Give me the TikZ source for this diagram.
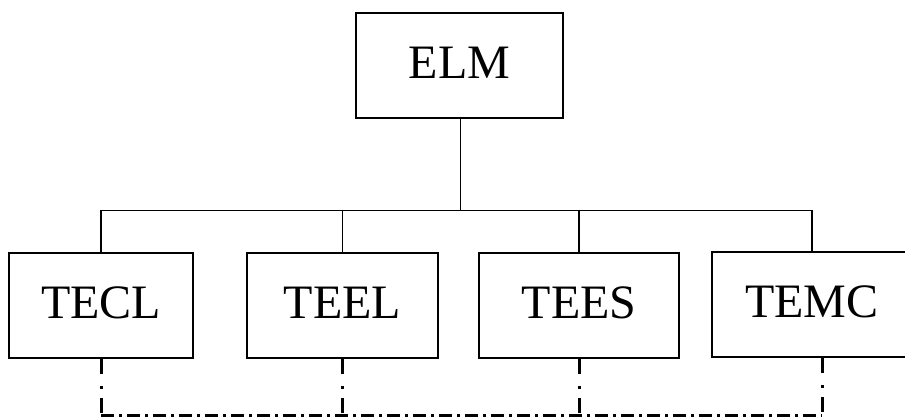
\documentclass[tikz,border=0pt]{standalone}
\usepackage{fontspec}
\setmainfont{Liberation Serif}
\begin{document}
\begin{tikzpicture}[x=1pt,y=-1pt,
  unitbox/.style={draw=black, line width=2pt, fill=white, minimum height=105pt,
    inner sep=0pt, font=\fontsize{48}{52}\selectfont, text depth=6pt},
  tree/.style={draw=black, line width=1.6pt},
  vdashdot/.style={draw=black, line width=3pt, dash pattern=on 15pt off 12pt on 3pt off 9pt},
  hdashdot/.style={draw=black, line width=3pt, dash pattern=on 13pt off 5pt on 3pt off 5pt}]
\useasboundingbox (0,0) rectangle (905,416);
\clip (0,0) rectangle (905,416);
% tree connectors
\coordinate (busL) at (101,210.5);
\coordinate (busR) at (812,210.5);
\node[unitbox, minimum width=207pt] (ELM) at (459.5,65.5) {ELM};
\node[unitbox, minimum width=184pt] (TECL) at (101,305.5) {TECL};
\node[unitbox, minimum width=191pt] (TEEL) at (342.5,305.5) {TEEL};
\node[unitbox, minimum width=200pt] (TEES) at (579,305.5) {TEES};
\node[unitbox, minimum width=200pt] (TEMC) at (812,304.5) {TEMC};
\draw[tree] (ELM.south -| 460.5,0) -- (460.5,210.5);
\draw[tree] (TECL.north) -- (busL) -- (busR) -- (TEMC.north);
\draw[tree] (TEEL.north) -- (TEEL.north |- busL);
\draw[tree] (TEES.north) -- (TEES.north |- busL);
% dash-dot links
\coordinate (b1) at (101,415.5);
\coordinate (b2) at (342,415.5);
\coordinate (b3) at (579,415.5);
\coordinate (b4) at (822,415.5);
\draw[vdashdot] (TECL.south) -- (b1);
\draw[vdashdot] (TEEL.south -| b2) -- (b2);
\draw[vdashdot] (TEES.south) -- (b3);
\draw[vdashdot] (TEMC.south -| b4) -- (b4);
\draw[hdashdot] (b1) -- (b4);
\end{tikzpicture}
\end{document}
